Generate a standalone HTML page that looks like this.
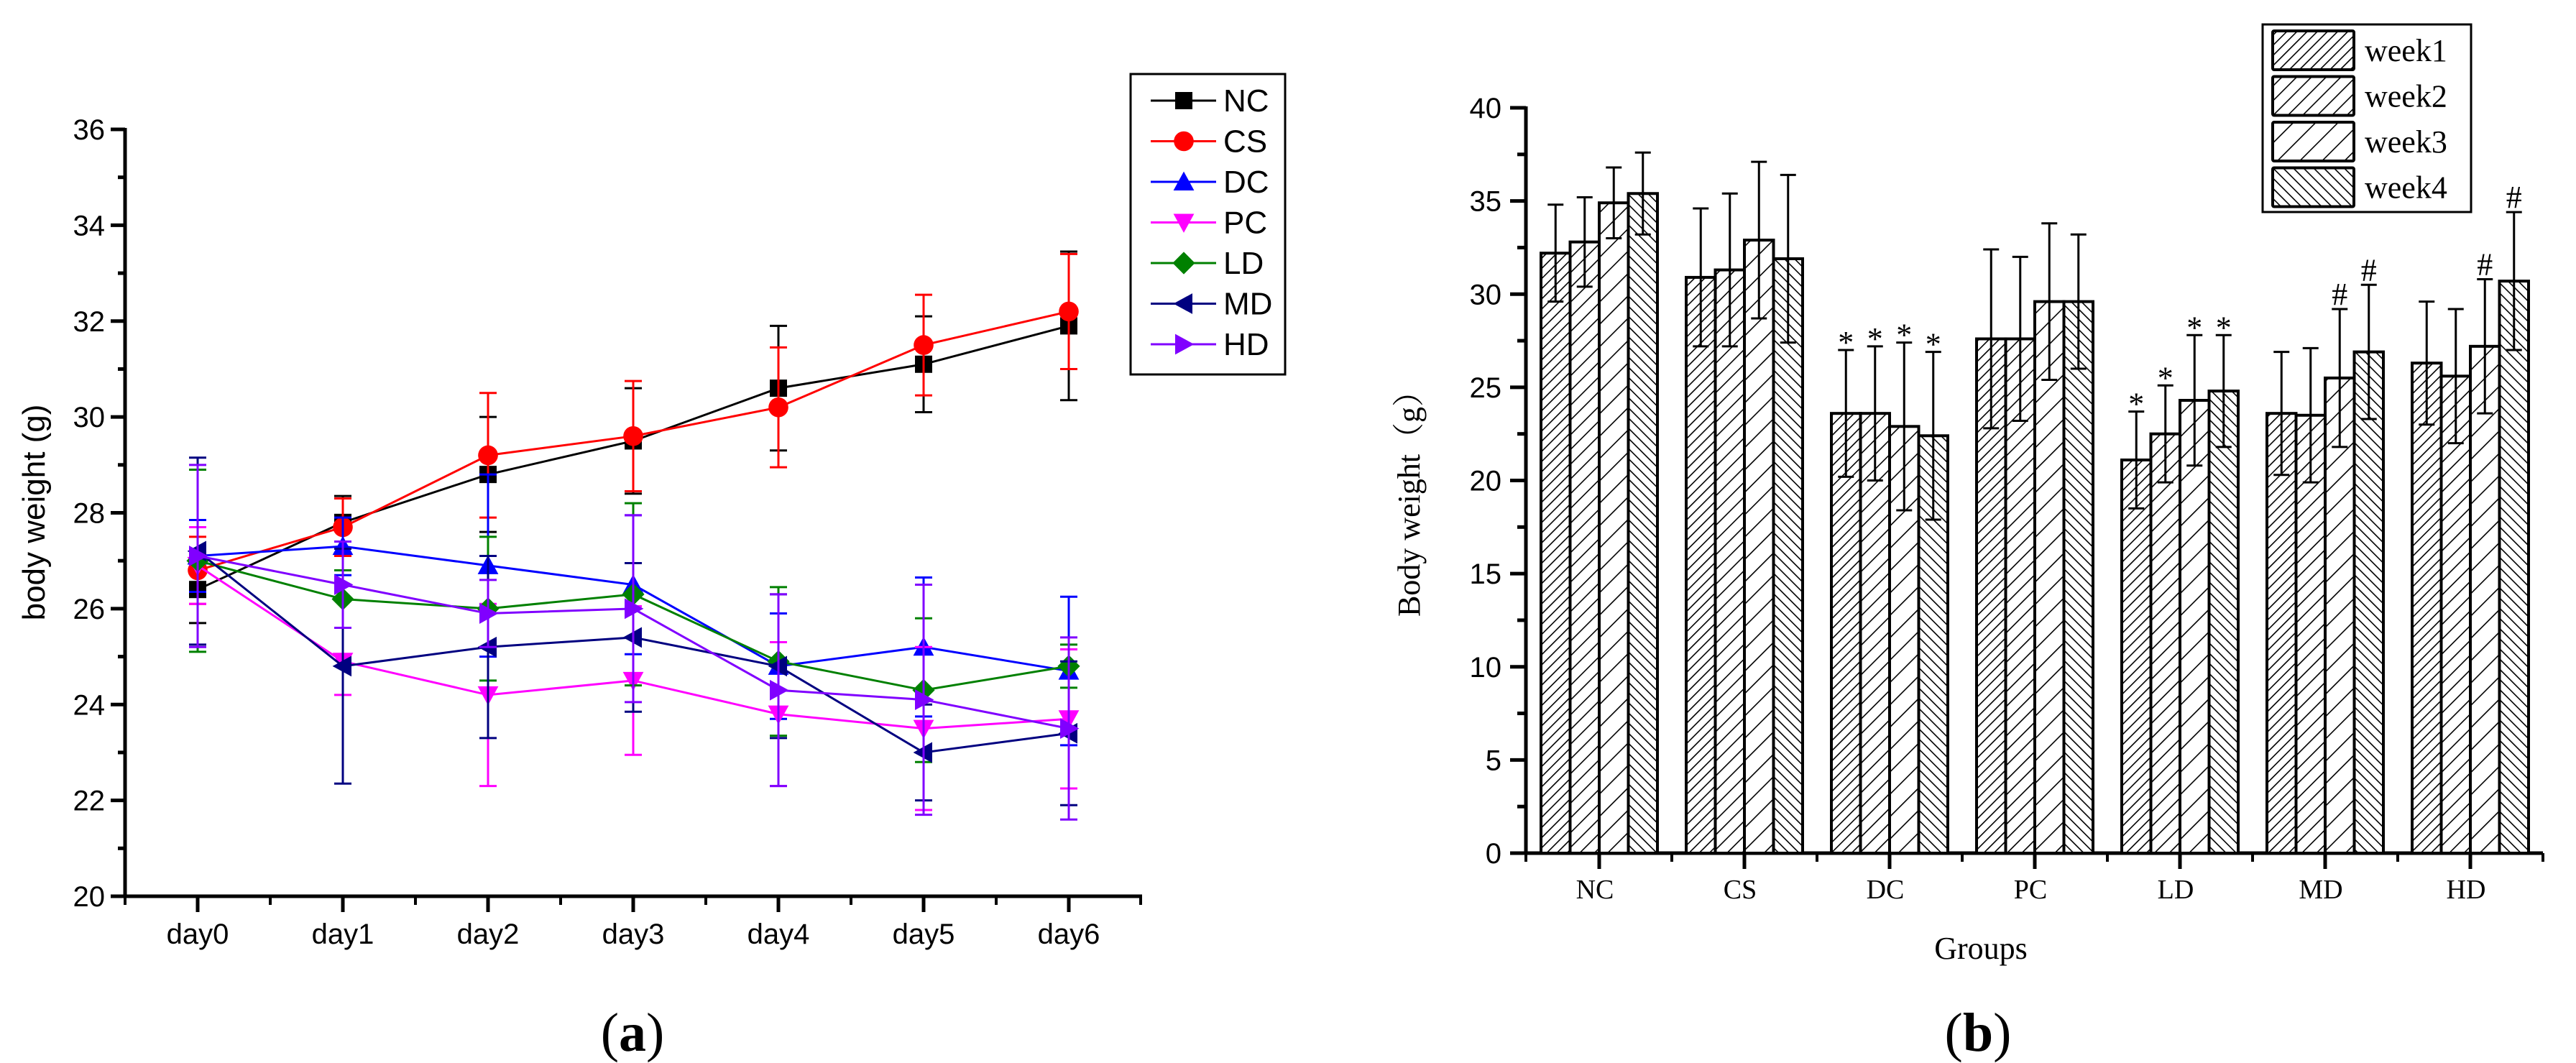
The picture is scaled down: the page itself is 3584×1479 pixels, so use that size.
<!DOCTYPE html>
<html><head><meta charset="utf-8"><style>
html,body{margin:0;padding:0;background:#fff;}
svg{display:block;}
</style></head><body>
<svg id="fig" width="3584" height="1479" viewBox="0 0 3584 1479" xmlns="http://www.w3.org/2000/svg">
<defs>
<pattern id="h1" patternUnits="userSpaceOnUse" width="10" height="10" patternTransform="rotate(45)"><line x1="0" y1="0" x2="0" y2="10" stroke="#000" stroke-width="3.2"/></pattern>
<pattern id="h2" patternUnits="userSpaceOnUse" width="14.5" height="14.5" patternTransform="rotate(45)"><line x1="0" y1="0" x2="0" y2="14.5" stroke="#000" stroke-width="3.2"/></pattern>
<pattern id="h3" patternUnits="userSpaceOnUse" width="22" height="22" patternTransform="rotate(45)"><line x1="0" y1="0" x2="0" y2="22" stroke="#000" stroke-width="3.2"/></pattern>
<pattern id="h4" patternUnits="userSpaceOnUse" width="10" height="10" patternTransform="rotate(-45)"><line x1="0" y1="0" x2="0" y2="10" stroke="#000" stroke-width="3.2"/></pattern>
</defs>
<g id="chartA"></g>
<g id="chartB"></g>
<text x="880" y="1462" text-anchor="middle" font-family="Liberation Serif, serif" font-size="76">(<tspan font-weight="bold">a</tspan>)</text>
<text x="2752" y="1462" text-anchor="middle" font-family="Liberation Serif, serif" font-size="76">(<tspan font-weight="bold">b</tspan>)</text>
</svg>
<script>
// ---------- Chart A data ----------
const daysA = ["day0","day1","day2","day3","day4","day5","day6"];
const seriesNamesA = ["NC","CS","DC","PC","LD","MD","HD"];
const valNC = [26.4,27.8,28.8,29.5,30.6,31.1,31.9];
const valCS = [26.8,27.7,29.2,29.6,30.2,31.5,32.2];
const valDC = [27.1,27.3,26.9,26.5,24.8,25.2,24.7];
const valPC = [26.9,24.9,24.2,24.5,23.8,23.5,23.7];
const valLD = [27.0,26.2,26.0,26.3,24.9,24.3,24.8];
const valMD = [27.2,24.8,25.2,25.4,24.8,23.0,23.4];
const valHD = [27.1,26.5,25.9,26.0,24.3,24.1,23.5];
const errNC = [0.7,0.55,1.2,1.1,1.3,1.0,1.55];
const errCS = [0.7,0.6,1.3,1.15,1.25,1.05,1.2];
const errDC = [0.75,0.6,1.9,1.45,1.1,1.45,1.55];
const errPC = [0.8,0.7,1.9,1.55,1.5,1.7,1.45];
const errLD = [1.9,0.6,1.5,1.9,1.55,1.5,0.45];
const errMD = [1.95,2.45,1.9,1.55,1.5,1.0,1.5];
const errHD = [1.9,0.9,0.7,1.95,2.0,2.4,1.9];
const yTicksA = [20,22,24,26,28,30,32,34,36];

// ---------- Chart B data ----------
const groupsB = ["NC","CS","DC","PC","LD","MD","HD"];
const weeksB = ["week1","week2","week3","week4"];
const week1 = [32.2,30.9,23.6,27.6,21.1,23.6,26.3];
const week2 = [32.8,31.3,23.6,27.6,22.5,23.5,25.6];
const week3 = [34.9,32.9,22.9,29.6,24.3,25.5,27.2];
const week4 = [35.4,31.9,22.4,29.6,24.8,26.9,30.7];
const err1 = [2.6,3.7,3.4,4.8,2.6,3.3,3.3];
const err2 = [2.4,4.1,3.6,4.4,2.6,3.6,3.6];
const err3 = [1.9,4.2,4.5,4.2,3.5,3.7,3.6];
const err4 = [2.2,4.5,4.5,3.6,3.0,3.6,3.7];
const mark1 = ["","","*","","*","",""];
const mark2 = ["","","*","","*","",""];
const mark3 = ["","","*","","*","#","#"];
const mark4 = ["","","*","","*","#","#"];
const yTicksB = [0,5,10,15,20,25,30,35,40];

const NS="http://www.w3.org/2000/svg";
function mk(tag, attrs, parent){const e=document.createElementNS(NS,tag);for(const k in attrs)e.setAttribute(k,attrs[k]);parent.appendChild(e);return e;}

// ===== Chart A =====
(function(){
const g=document.getElementById('chartA');
const X0=174, X1=1587, Y0=1247, Y1=180;
const xA=i=>275+i*(1487-275)/6;
const yA=v=>Y0-(v-20)*(Y0-Y1)/16;
const colors=["#000000","#ff0000","#0000ff","#ff00ff","#008000","#000080","#8000ff"];
const shapes=["square","circle","up","down","diamond","left","right"];
const vals=[valNC,valCS,valDC,valPC,valLD,valMD,valHD];
const errs=[errNC,errCS,errDC,errPC,errLD,errMD,errHD];
function marker(par,shape,cx,cy,c,s){
  let el;
  if(shape==="square") el=mk('rect',{x:cx-s,y:cy-s,width:2*s,height:2*s,fill:c},par);
  else if(shape==="circle") el=mk('circle',{cx:cx,cy:cy,r:s*1.15,fill:c},par);
  else { let p;
    if(shape==="up") p=[[cx,cy-s*1.2],[cx+s*1.2,cy+s],[cx-s*1.2,cy+s]];
    if(shape==="down") p=[[cx,cy+s*1.2],[cx+s*1.2,cy-s],[cx-s*1.2,cy-s]];
    if(shape==="diamond") p=[[cx,cy-s*1.3],[cx+s*1.3,cy],[cx,cy+s*1.3],[cx-s*1.3,cy]];
    if(shape==="left") p=[[cx-s*1.2,cy],[cx+s,cy-s*1.2],[cx+s,cy+s*1.2]];
    if(shape==="right") p=[[cx+s*1.2,cy],[cx-s,cy-s*1.2],[cx-s,cy+s*1.2]];
    el=mk('polygon',{points:p.map(q=>q.join(',')).join(' '),fill:c},par);}
  return el;
}
const ax=mk('g',{},g);


mk('line',{x1:X0,y1:Y1-2,x2:X0,y2:Y0+2,stroke:"#000","stroke-width":5},ax);
mk('line',{x1:X0-2,y1:Y0,x2:X1+2,y2:Y0,stroke:"#000","stroke-width":5},ax);
mk('line',{x1:X1,y1:Y0,x2:X1,y2:Y0+12,stroke:"#000","stroke-width":4},ax);
mk('line',{x1:X0,y1:Y0,x2:X0,y2:Y0+12,stroke:"#000","stroke-width":4},ax);
yTicksA.forEach((v,i)=>{
  const y=yA(v);
  mk('line',{x1:X0-20,y1:y,x2:X0,y2:y,stroke:"#000","stroke-width":5},ax);
  if(i<yTicksA.length-1) mk('line',{x1:X0-10,y1:yA(v+1),x2:X0,y2:yA(v+1),stroke:"#000","stroke-width":5},ax);
  const t=mk('text',{x:X0-28,y:y+14,"text-anchor":"end","font-family":"Liberation Sans, sans-serif","font-size":40},ax);
  t.textContent=v;
  
  
});
daysA.forEach((d,i)=>{
  const x=xA(i);
  mk('line',{x1:x,y1:Y0,x2:x,y2:Y0+22,stroke:"#000","stroke-width":5},ax);
  if(i<6) mk('line',{x1:x+101,y1:Y0,x2:x+101,y2:Y0+12,stroke:"#000","stroke-width":4},ax);
  const t=mk('text',{x:x,y:1313,"text-anchor":"middle","font-family":"Liberation Sans, sans-serif","font-size":40},ax);
  t.textContent=d;
  
  
});
const yt=mk('text',{x:0,y:0,"text-anchor":"middle","font-family":"Liberation Sans, sans-serif","font-size":44,transform:"translate(62,713) rotate(-90)"},g);
yt.textContent="body weight (g)";


vals.forEach((vs,si)=>{
  const sg=mk('g',{},g);
  
  
  const c=colors[si];
  vs.forEach((v,i)=>{
    const x=xA(i), e=errs[si][i];
    mk('line',{x1:x,y1:yA(v-e),x2:x,y2:yA(v+e),stroke:c,"stroke-width":3},sg);
    mk('line',{x1:x-12,y1:yA(v-e),x2:x+12,y2:yA(v-e),stroke:c,"stroke-width":3},sg);
    mk('line',{x1:x-12,y1:yA(v+e),x2:x+12,y2:yA(v+e),stroke:c,"stroke-width":3},sg);
  });
  mk('polyline',{points:vs.map((v,i)=>xA(i)+','+yA(v)).join(' '),fill:"none",stroke:c,"stroke-width":3},sg);
  vs.forEach((v,i)=>{
    const m=marker(sg,shapes[si],xA(i),yA(v),c,12);
    
    
  });
});
const lg=mk('g',{},g);


mk('rect',{x:1573,y:103,width:215,height:418,fill:"#fff",stroke:"#000","stroke-width":3},lg);
seriesNamesA.forEach((n,i)=>{
  const y=140+i*56.5;
  const e=mk('g',{},lg);
  
  
  mk('line',{x1:1601,y1:y,x2:1692,y2:y,stroke:colors[i],"stroke-width":3},e);
  marker(e,shapes[i],1647,y,colors[i],12);
  const t=mk('text',{x:1702,y:y+15,"font-family":"Liberation Sans, sans-serif","font-size":44},e);
  t.textContent=n;
})
})();

// ===== Chart B =====
(function(){
const g=document.getElementById('chartB');
const X0=2123, X1=3538, Y0=1187, Y1=150;
const yB=v=>Y0-v*(Y0-Y1)/40;
const gc=i=>2225+i*202;
const bw=40.5;
const vals=[week1,week2,week3,week4], errs=[err1,err2,err3,err4], marks=[mark1,mark2,mark3,mark4];
const fills=["url(#h1)","url(#h2)","url(#h3)","url(#h4)"];
const ax=mk('g',{},g);


yTicksB.forEach((v,i)=>{
  const y=yB(v);
  mk('line',{x1:X0-22,y1:y,x2:X0,y2:y,stroke:"#000","stroke-width":5},ax);
  if(i<yTicksB.length-1) mk('line',{x1:X0-12,y1:yB(v+2.5),x2:X0,y2:yB(v+2.5),stroke:"#000","stroke-width":5},ax);
  const t=mk('text',{x:X0-34,y:y+14,"text-anchor":"end","font-family":"Liberation Sans, sans-serif","font-size":40},ax);
  t.textContent=v;
  
  
});
groupsB.forEach((gn,gi)=>{
  const gg=mk('g',{},g);
  
  
  vals.forEach((vs,wi)=>{
    const x=gc(gi)-2*bw+wi*bw, v=vs[gi];
    mk('rect',{x:x,y:yB(v),width:bw,height:Y0-yB(v),fill:"#fff",stroke:"none"},gg);
    const r2=mk('rect',{x:x,y:yB(v),width:bw,height:Y0-yB(v),fill:fills[wi],stroke:"#000","stroke-width":4},gg);
    
    
    const cx=x+bw/2, e=errs[wi][gi];
    mk('line',{x1:cx,y1:yB(v-e),x2:cx,y2:yB(v+e),stroke:"#000","stroke-width":3},gg);
    mk('line',{x1:cx-11,y1:yB(v+e),x2:cx+11,y2:yB(v+e),stroke:"#000","stroke-width":3},gg);
    mk('line',{x1:cx-11,y1:yB(v-e),x2:cx+11,y2:yB(v-e),stroke:"#000","stroke-width":3},gg);
    const m=marks[wi][gi];
    if(m){
      const t=mk('text',{x:cx,y:yB(v+e)-(m==="*"?-4:6),"text-anchor":"middle","font-family":"Liberation Serif, serif","font-size":44},gg);
      t.textContent=m;
      
      
    }
  });
  mk('line',{x1:gc(gi),y1:Y0,x2:gc(gi),y2:Y0+22,stroke:"#000","stroke-width":5},ax);
  mk('line',{x1:gc(gi)+101,y1:Y0,x2:gc(gi)+101,y2:Y0+12,stroke:"#000","stroke-width":4},ax);
  const t=mk('text',{x:gc(gi)-6,y:1250,"text-anchor":"middle","font-family":"Liberation Serif, serif","font-size":38},ax);
  t.textContent=gn;
  
  
});
mk('line',{x1:X0,y1:Y1-2,x2:X0,y2:Y0+2,stroke:"#000","stroke-width":5},ax);
mk('line',{x1:X0-2,y1:Y0,x2:X1,y2:Y0,stroke:"#000","stroke-width":5},ax);
mk('line',{x1:X0,y1:Y0,x2:X0,y2:Y0+12,stroke:"#000","stroke-width":4},ax);
const xt=mk('text',{x:2756,y:1334,"text-anchor":"middle","font-family":"Liberation Serif, serif","font-size":44},g);
xt.textContent="Groups";


const yt=mk('text',{x:0,y:0,"text-anchor":"middle","font-family":"Liberation Serif, Noto Serif CJK SC, serif","font-size":44,transform:"translate(1975,690) rotate(-90)"},g);
yt.textContent="Body weight（g）";


const lg=mk('g',{},g);


mk('rect',{x:3148,y:34,width:290,height:261,fill:"#fff",stroke:"#000","stroke-width":3},lg);
weeksB.forEach((w,i)=>{
  const y=43+i*63.5;
  const e=mk('g',{},lg);
  
  
  mk('rect',{x:3162,y:y,width:113,height:54,fill:fills[i],stroke:"#000","stroke-width":4,rx:2},e);
  const t=mk('text',{x:3290,y:y+42,"font-family":"Liberation Serif, serif","font-size":44},e);
  t.textContent=w;
});
})();
</script>
</body></html>
